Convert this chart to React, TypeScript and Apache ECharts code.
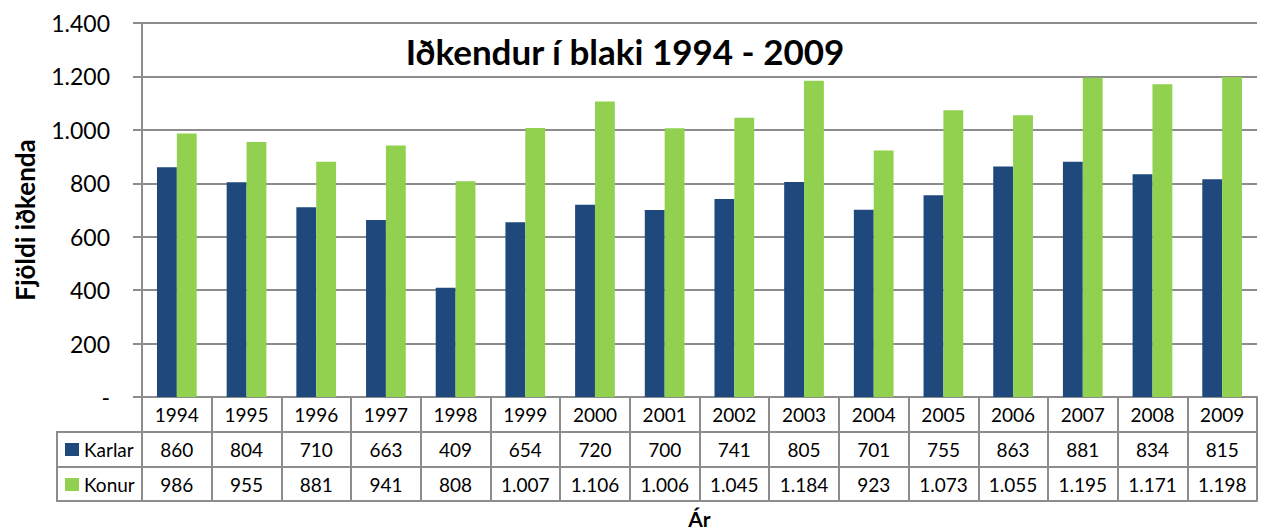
import React, { useEffect, useRef } from "react";
import * as echarts from "echarts";

const years = ["1994","1995","1996","1997","1998","1999","2000","2001","2002","2003","2004","2005","2006","2007","2008","2009"];
const karlar = [860, 804, 710, 663, 409, 654, 720, 700, 741, 805, 701, 755, 863, 881, 834, 815];
const konur = [986, 955, 881, 941, 808, 1007, 1106, 1006, 1045, 1184, 923, 1073, 1055, 1195, 1171, 1198];
const yTicks = { min: 0, max: 1400, interval: 200 };

const FONT = "Lato, 'Open Sans', sans-serif";
const GRID_COLOR = "#8c8c8c";
const BLUE = "#1F497D";
const GREEN = "#92D050";

const fmt = (v: number) => {
  if (v === 0) return "-";
  const s = String(Math.round(v));
  return s.replace(/\B(?=(\d{3})+(?!\d))/g, ".");
};

export default function App() {
  const ref = useRef<HTMLDivElement>(null);
  useEffect(() => {
    if (!ref.current) return;
    const chart = echarts.init(ref.current, null, { renderer: "svg" });
    const line = { show: true, lineStyle: { color: GRID_COLOR, width: 2 } };
    const baseX = {
      type: "category" as const,
      data: years,
      position: "bottom" as const,
      axisLine: line,
      axisTick: { show: false },
      splitLine: { show: false },
    };
    const labelStyle = {
      fontFamily: FONT,
      fontSize: 19,
      color: "#000",
      margin: 17,
      verticalAlign: "middle" as const,
      interval: 0,
    };
    const legendText = { fontFamily: FONT, fontSize: 19, color: "#000" };
    chart.setOption({
      animation: false,
      textStyle: { fontFamily: FONT },
      grid: { left: 142, right: 4, top: 23, bottom: 135, containLabel: false, outerBoundsMode: "none" },
      xAxis: [
        {
          ...baseX,
          axisTick: { show: true, length: 104, lineStyle: { color: GRID_COLOR, width: 2 } },
          axisLabel: { ...labelStyle },
        },
        {
          ...baseX,
          offset: 35,
          axisLabel: { ...labelStyle, formatter: (_v: string, i: number) => fmt(karlar[i]) },
        },
        {
          ...baseX,
          offset: 70,
          axisLabel: { ...labelStyle, formatter: (_v: string, i: number) => fmt(konur[i]) },
        },
        {
          ...baseX,
          offset: 104,
          axisLabel: { show: false },
          name: "Ár",
          nameLocation: "middle",
          nameGap: 7,
          nameTextStyle: { fontFamily: FONT, fontSize: 21, fontWeight: "bold", color: "#000" },
        },
      ],
      yAxis: {
        type: "value",
        min: yTicks.min,
        max: yTicks.max,
        interval: yTicks.interval,
        axisLine: line,
        axisTick: { show: true, length: 9, lineStyle: { color: GRID_COLOR, width: 2 } },
        splitLine: { show: true, lineStyle: { color: GRID_COLOR, width: 2 } },
        axisLabel: {
          fontFamily: FONT,
          fontSize: 23,
          color: "#000",
          margin: 32,
          formatter: (v: number) => fmt(v),
        },
      },
      legend: [
        {
          data: ["Karlar"],
          left: 60,
          top: 435,
          icon: "rect",
          itemWidth: 14,
          itemHeight: 13,
          itemGap: 0,
          textStyle: legendText,
          selectedMode: false,
        },
        {
          data: ["Konur"],
          left: 60,
          top: 470,
          icon: "rect",
          itemWidth: 14,
          itemHeight: 13,
          itemGap: 0,
          textStyle: legendText,
          selectedMode: false,
        },
      ],
      series: [
        {
          name: "Karlar",
          type: "bar",
          data: karlar,
          itemStyle: { color: BLUE },
          barGap: "0%",
          barCategoryGap: "43%",
        },
        {
          name: "Konur",
          type: "bar",
          data: konur,
          itemStyle: { color: GREEN },
          barGap: "0%",
          barCategoryGap: "43%",
        },
      ],
      graphic: [
        {
          type: "text",
          x: 625,
          y: 51,
          style: {
            text: "Iðkendur í blaki 1994 - 2009",
            fontFamily: FONT,
            fontSize: 35,
            fontWeight: "bold",
            fill: "#000",
            textAlign: "center",
            textVerticalAlign: "middle",
          },
        },
        {
          type: "text",
          x: 25,
          y: 220,
          rotation: Math.PI / 2,
          style: {
            text: "Fjöldi iðkenda",
            fontFamily: FONT,
            fontSize: 26,
            fontWeight: "bold",
            fill: "#000",
            textAlign: "center",
            textVerticalAlign: "middle",
          },
        },
        { type: "line", shape: { x1: 57, y1: 432, x2: 143, y2: 432 }, style: { stroke: GRID_COLOR, lineWidth: 2 } },
        { type: "line", shape: { x1: 57, y1: 467, x2: 143, y2: 467 }, style: { stroke: GRID_COLOR, lineWidth: 2 } },
        { type: "line", shape: { x1: 57, y1: 501, x2: 143, y2: 501 }, style: { stroke: GRID_COLOR, lineWidth: 2 } },
        { type: "line", shape: { x1: 57, y1: 431, x2: 57, y2: 502 }, style: { stroke: GRID_COLOR, lineWidth: 2 } },
      ],
    });
    return () => chart.dispose();
  }, []);
  return <div ref={ref} style={{ width: 1261, height: 532, position: "absolute", left: 0, top: 0 }} />;
}
